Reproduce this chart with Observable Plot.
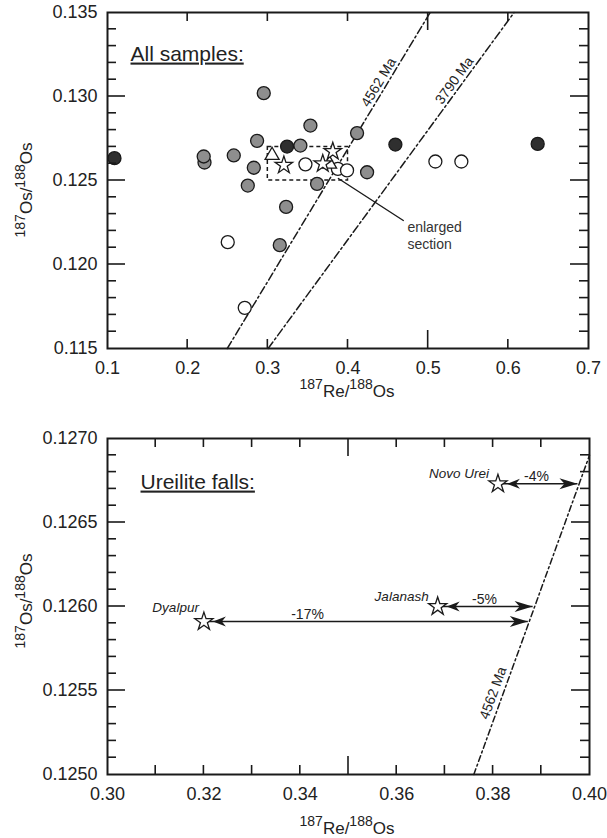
<!DOCTYPE html>
<html><head><meta charset="utf-8">
<script src="https://cdn.jsdelivr.net/npm/d3@7"></script>
<script src="https://cdn.jsdelivr.net/npm/@observablehq/plot@0.6"></script>
<style>
  html,body{margin:0;padding:0;background:#fff;}
  #chart svg{display:block;}
</style>
</head><body><div id="chart"></div>
<script>
// ---------- data ----------
// top panel: all samples
const grayRe = [0.221, 0.220, 0.2575, 0.2949, 0.2866, 0.2825, 0.2750, 0.3406, 0.3531, 0.3614, 0.3228, 0.3149, 0.4113, 0.4238];
const grayOs = [0.12607, 0.12643, 0.12649, 0.13020, 0.12736, 0.12576, 0.12470, 0.12708, 0.12827, 0.12480, 0.12343, 0.12115, 0.12782, 0.12549];
const darkRe = [0.1087, 0.3240, 0.4591, 0.6366];
const darkOs = [0.12633, 0.12702, 0.12714, 0.12718];
const openRe = [0.2500, 0.2712, 0.3469, 0.3874, 0.3988, 0.5090, 0.5414];
const openOs = [0.12133, 0.11742, 0.12596, 0.12569, 0.12560, 0.12613, 0.12613];
const triRe = [0.3053, 0.3770];
const triOs = [0.12650, 0.12598];

// ureilite falls (stars)
const fallNames = ["Dyalpur", "Jalanash", "Novo Urei"];
const fallRe = [0.3200, 0.3685, 0.3810];
const fallOs = [0.12591, 0.12600, 0.12673];
const fallIsoRe = [0.3872, 0.3882, 0.3975];
const fallPct = ["-17%", "-5%", "-4%"];
const fallPctRe = [0.3415, 0.3782, 0.3890];

// reference isochrons (end points)
const iso4562TopRe = [0.2494, 0.5025];
const iso4562TopOs = [0.115, 0.135];
const iso3790TopRe = [0.3004, 0.6072];
const iso3790TopOs = [0.115, 0.135];
const iso4562BotRe = [0.376, 0.400];
const iso4562BotOs = [0.1250, 0.1269];

// isochron labels
const isoLabelTopText = ["4562 Ma", "3790 Ma"];
const isoLabelTopRe = [0.4383, 0.5327];
const isoLabelTopOs = [0.13084, 0.13095];
const isoLabelTopAngle = [-59, -54];
const isoLabelBotText = ["4562 Ma"];
const isoLabelBotRe = [0.3800];
const isoLabelBotOs = [0.125485];
const isoLabelBotAngle = [-70];

// enlarged section box and leader
const boxRe = [0.30, 0.40];
const boxOs = [0.1250, 0.1270];
const leaderRe = [0.388, 0.469];
const leaderOs = [0.12512, 0.12262];
const enlargedText = "enlarged\nsection";
const enlargedRe = 0.4741;
const enlargedOs = 0.12095;

// panel headings
const headTop = {text: "All samples:", re: 0.1287, os: 0.13214};
const headBot = {text: "Ureilite falls:", re: 0.30685, os: 0.126702};

// axes domains and ticks
const xDomTop = [0.1, 0.7];
const yDomTop = [0.115, 0.135];
const xTicksTop = [0.1, 0.2, 0.3, 0.4, 0.5, 0.6, 0.7];
const xMinorTop = [0.2, 0.3, 0.4, 0.6];
const xMajorTop = [0.5];
const yTicksTop = [0.115, 0.120, 0.125, 0.130, 0.135];
const yMajorTop = [0.120, 0.125, 0.130];
const yMinorTop = [0.116, 0.117, 0.118, 0.119, 0.121, 0.122, 0.123, 0.124, 0.126, 0.127, 0.128, 0.129, 0.131, 0.132, 0.133, 0.134];

const xDomBot = [0.30, 0.40];
const yDomBot = [0.1250, 0.1270];
const xTicksBot = [0.30, 0.32, 0.34, 0.36, 0.38, 0.40];
const xMinorBot = [0.31, 0.32, 0.33, 0.34, 0.36, 0.37, 0.38, 0.39];
const xMajorBot = [0.35];
const yTicksBot = [0.1250, 0.1255, 0.1260, 0.1265, 0.1270];
const yMajorBot = [0.1255, 0.1260, 0.1265];
const yMinorBot = [0.1251, 0.1252, 0.1253, 0.1254, 0.1256, 0.1257, 0.1258, 0.1259, 0.1261, 0.1262, 0.1263, 0.1264, 0.1266, 0.1267, 0.1268, 0.1269];

// ---------- helpers ----------
const font = "'Liberation Sans', Arial, Helvetica, sans-serif";
const ink = "#1a1a1a";
const pts = (xs, ys) => xs.map((x, i) => ({x, y: ys[i]}));
const arrowRight = {draw(c) { c.moveTo(0, 0); c.lineTo(-18, -5.5); c.lineTo(-13, 0); c.lineTo(-18, 5.5); c.closePath(); }};
const arrowLeft = {draw(c) { c.moveTo(0, 0); c.lineTo(13, -5); c.lineTo(9, 0); c.lineTo(13, 5); c.closePath(); }};
const MAJ = 18, MIN = 9;

// inward ticks on all four sides, placed with the plot's own x / y scales,
// in a transparent layer laid exactly over the plot
function withTicks(plotSvg, w, h, xMaj, xMin, yMaj, yMin) {
  const wrap = document.createElement("div");
  wrap.style.position = "relative";
  wrap.style.width = w + "px";
  wrap.style.height = h + "px";
  wrap.appendChild(plotSvg);
  const sx = plotSvg.scale("x"), sy = plotSvg.scale("y");
  const xl = Math.min(...sx.range), xr = Math.max(...sx.range);
  const yt = Math.min(...sy.range), yb = Math.max(...sy.range);
  const ov = d3.create("svg").attr("width", w).attr("height", h)
    .style("position", "absolute").style("left", "0px").style("top", "0px")
    .style("pointer-events", "none").style("overflow", "visible");
  const g = ov.append("g").attr("stroke", ink).attr("stroke-width", 1.6).attr("fill", "none");
  for (const [arr, len] of [[yMaj, MAJ], [yMin, MIN]]) for (const v of arr) {
    const y = sy.apply(v);
    g.append("line").attr("x1", xl).attr("x2", xl + len).attr("y1", y).attr("y2", y);
    g.append("line").attr("x1", xr - len).attr("x2", xr).attr("y1", y).attr("y2", y);
  }
  for (const [arr, len] of [[xMaj, MAJ], [xMin, MIN]]) for (const v of arr) {
    const x = sx.apply(v);
    g.append("line").attr("x1", x).attr("x2", x).attr("y1", yb).attr("y2", yb - len);
    g.append("line").attr("x1", x).attr("x2", x).attr("y1", yt).attr("y2", yt + len);
  }
  wrap.appendChild(ov.node());
  return wrap;
}

function addXLabel(svg, cx, baseline) {
  const t = d3.select(svg).append("text")
    .attr("transform", `translate(${cx},${baseline})`)
    .attr("text-anchor", "middle").attr("fill", "#222").style("font-family", font);
  t.append("tspan").attr("font-size", 14).text("187");
  t.append("tspan").attr("font-size", 17).attr("dy", 8).text("Re/");
  t.append("tspan").attr("font-size", 14).attr("dy", -8).text("188");
  t.append("tspan").attr("font-size", 17).attr("dy", 8).text("Os");
}
function addYLabel(svg, baselineX, cy) {
  const t = d3.select(svg).append("text")
    .attr("transform", `translate(${baselineX},${cy}) rotate(-90)`)
    .attr("text-anchor", "middle").attr("fill", "#222").style("font-family", font);
  t.append("tspan").attr("font-size", 14).text("187");
  t.append("tspan").attr("font-size", 17).attr("dy", 7).text("Os/");
  t.append("tspan").attr("font-size", 14).attr("dy", -7).text("188");
  t.append("tspan").attr("font-size", 17).attr("dy", 7).text("Os");
}
function underline(svg, txt) {
  d3.select(svg).selectAll("text").filter(function() { return this.textContent === txt; })
    .style("text-decoration", "underline");
}

const falls = fallNames.map((n, i) => ({name: n, re: fallRe[i], os: fallOs[i], iso: fallIsoRe[i], pct: fallPct[i], pctRe: fallPctRe[i]}));
const isoDash = "8,3,2,3";
const circleBase = {r: 6.5, stroke: ink, strokeWidth: 1.3};
const starStyle = {symbol: "star", r: 5.5, fill: "white", stroke: ink, strokeWidth: 1.3};

// ---------- top panel ----------
const topPlot = Plot.plot({
  width: 607, height: 420,
  marginLeft: 107, marginRight: 19, marginTop: 12, marginBottom: 72,
  style: {fontFamily: font, background: "white", color: ink, overflow: "visible"},
  x: {domain: xDomTop, axis: null},
  y: {domain: yDomTop, axis: null},
  marks: [
    Plot.line(pts(iso4562TopRe, iso4562TopOs), {x: "x", y: "y", stroke: ink, strokeWidth: 1.5, strokeDasharray: isoDash}),
    Plot.line(pts(iso3790TopRe, iso3790TopOs), {x: "x", y: "y", stroke: ink, strokeWidth: 1.5, strokeDasharray: isoDash}),
    Plot.text(isoLabelTopText.map((t, i) => ({t, x: isoLabelTopRe[i], y: isoLabelTopOs[i], a: isoLabelTopAngle[i]})),
      {x: "x", y: "y", text: "t", rotate: "a", fontSize: 14, fill: "#222"}),
    Plot.rect([{x1: boxRe[0], x2: boxRe[1], y1: boxOs[0], y2: boxOs[1]}],
      {x1: "x1", x2: "x2", y1: "y1", y2: "y2", fill: "none", stroke: ink, strokeWidth: 1.5, strokeDasharray: "4,3"}),
    Plot.line(pts(leaderRe, leaderOs), {x: "x", y: "y", stroke: ink, strokeWidth: 1.4}),
    Plot.text([enlargedText], {x: () => enlargedRe, y: () => enlargedOs, text: d => d, textAnchor: "start", lineAnchor: "bottom", lineHeight: 1.2, fontSize: 14, fill: "#333"}),
    Plot.dot(pts(darkRe, darkOs), {x: "x", y: "y", fill: "#2f2f2f", ...circleBase}),
    Plot.dot(pts(grayRe, grayOs), {x: "x", y: "y", fill: "#8e8e8e", ...circleBase}),
    Plot.dot(pts(openRe, openOs), {x: "x", y: "y", fill: "white", ...circleBase}),
    Plot.dot(pts(triRe, triOs), {x: "x", y: "y", symbol: "triangle", r: 5.2, fill: "white", stroke: ink, strokeWidth: 1.3}),
    Plot.dot(falls, {x: "re", y: "os", ...starStyle}),
    Plot.text([headTop], {x: "re", y: "os", text: "text", textAnchor: "start", lineAnchor: "bottom", fontSize: 21, fill: "#222"}),
    Plot.frame({stroke: ink, strokeWidth: 2}),
    Plot.axisX({ticks: xTicksTop, tickFormat: d => d.toFixed(1), tickSize: 0, tickPadding: 13, fontSize: 18, label: null, fill: "#222"}),
    Plot.axisY({ticks: yTicksTop, tickFormat: d => d.toFixed(3), tickSize: 0, tickPadding: 10, fontSize: 18, label: null, fill: "#222"})
  ]
});
addXLabel(topPlot, 347, 389);
addYLabel(topPlot, 25, 190);
underline(topPlot, headTop.text);

// ---------- bottom panel ----------
const botPlot = Plot.plot({
  width: 607, height: 418,
  marginLeft: 107, marginRight: 18, marginTop: 18, marginBottom: 64,
  style: {fontFamily: font, background: "white", color: ink, overflow: "visible"},
  x: {domain: xDomBot, axis: null},
  y: {domain: yDomBot, axis: null},
  marks: [
    Plot.line(pts(iso4562BotRe, iso4562BotOs), {x: "x", y: "y", stroke: ink, strokeWidth: 1.5, strokeDasharray: "6,3,2,3"}),
    Plot.text(isoLabelBotText.map((t, i) => ({t, x: isoLabelBotRe[i], y: isoLabelBotOs[i], a: isoLabelBotAngle[i]})),
      {x: "x", y: "y", text: "t", rotate: "a", fontSize: 14, fill: "#222"}),
    Plot.link(falls, {x1: "re", x2: "iso", y1: "os", y2: "os", stroke: ink, strokeWidth: 1.5}),
    Plot.dot(falls, {x: "re", y: "os", dx: 9, symbol: arrowLeft, fill: ink, stroke: "none"}),
    Plot.dot(falls, {x: "iso", y: "os", symbol: arrowRight, fill: ink, stroke: "none"}),
    Plot.dot(falls, {x: "re", y: "os", ...starStyle, r: 5.7}),
    Plot.text(falls.filter(d => d.name === "Dyalpur"), {x: "re", y: "os", text: "name", dx: -5, dy: -10, textAnchor: "end", lineAnchor: "bottom", fontSize: 13.5, fontStyle: "italic", fill: "#222"}),
    Plot.text(falls.filter(d => d.name !== "Dyalpur"), {x: "re", y: "os", text: "name", dx: -9, dy: -6, textAnchor: "end", lineAnchor: "bottom", fontSize: 13.5, fontStyle: "italic", fill: "#222"}),
    Plot.text(falls, {x: "pctRe", y: "os", text: "pct", dy: -3, textAnchor: "middle", lineAnchor: "bottom", fontSize: 14, fill: "#222"}),
    Plot.text([headBot], {x: "re", y: "os", text: "text", textAnchor: "start", lineAnchor: "bottom", fontSize: 21, fill: "#222"}),
    Plot.frame({stroke: ink, strokeWidth: 2}),
    Plot.axisX({ticks: xTicksBot, tickFormat: d => d.toFixed(2), tickSize: 0, tickPadding: 13, fontSize: 18, label: null, fill: "#222"}),
    Plot.axisY({ticks: yTicksBot, tickFormat: d => d.toFixed(4), tickSize: 0, tickPadding: 10, fontSize: 18, label: null, fill: "#222"})
  ]
});
addXLabel(botPlot, 347, 406);
addYLabel(botPlot, 25, 181);
underline(botPlot, headBot.text);

const chart = document.getElementById("chart");
chart.appendChild(withTicks(topPlot, 607, 420, xMajorTop, xMinorTop, yMajorTop, yMinorTop));
chart.appendChild(withTicks(botPlot, 607, 418, xMajorBot, xMinorBot, yMajorBot, yMinorBot));
</script></body></html>
